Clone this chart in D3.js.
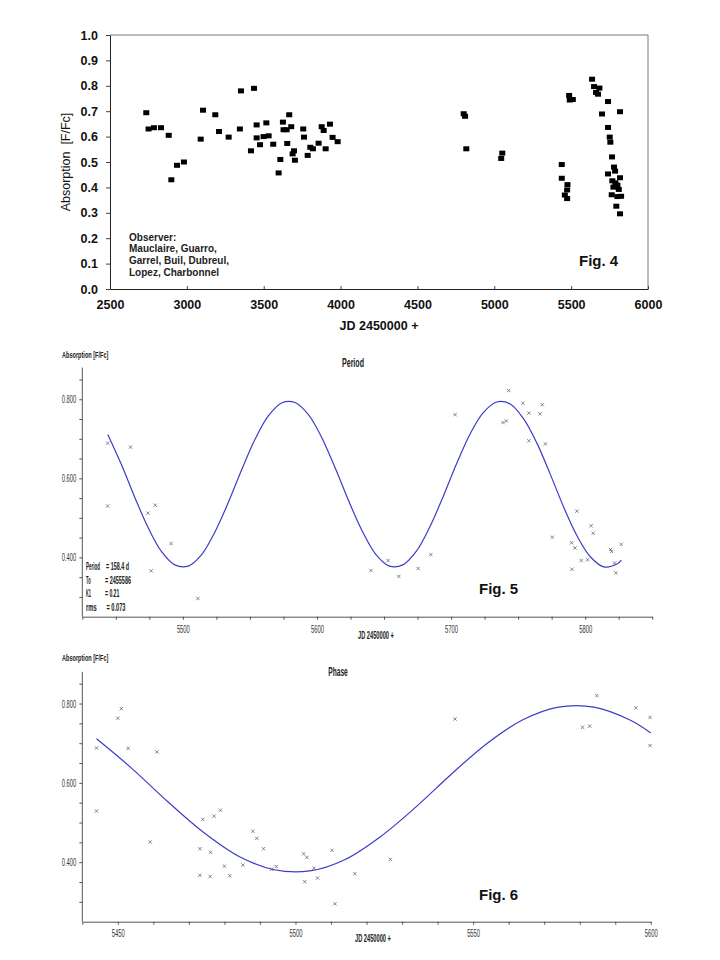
<!DOCTYPE html>
<html><head><meta charset="utf-8">
<script src="https://cdn.jsdelivr.net/npm/d3@7"></script>
<style>
html,body{margin:0;padding:0;background:#fff;}
svg{display:block;}
</style>
</head><body>
<svg id="chart" width="720" height="960"></svg>
<script>
// ---------- Fig. 4 data ----------
const fig4JD = [2736,2751,2786,2832,2882,2899,2936,2981,3090,3105,3185,3209,3272,3345,3352,3417,3437,3454,3454,3476,3499,3517,3532,3562,3597,3608,3625,3629,3649,3653,3666,3679,3688,3697,3703,3757,3762,3786,3803,3820,3857,3877,3890,3903,3931,3948,3981,
 4801,4810,4818,5052,5045,5439,5439,5476,5474,5459,5474,5487,5491,5511,5636,5649,5684,5662,5675,5740,5701,5818,5740,5751,5755,5766,5779,5786,5740,5818,5768,5788,5801,5775,5810,5764,5801,5825,5794,5818];
const fig4Abs = [0.694,0.630,0.635,0.635,0.605,0.430,0.487,0.500,0.590,0.704,0.686,0.620,0.598,0.630,0.780,0.544,0.790,0.646,0.595,0.568,0.600,0.654,0.603,0.570,0.457,0.510,0.657,0.627,0.627,0.573,0.686,0.639,0.532,0.544,0.507,0.630,0.598,0.526,0.558,0.552,0.574,0.639,0.624,0.552,0.649,0.597,0.580,
 0.690,0.680,0.552,0.535,0.514,0.490,0.436,0.411,0.390,0.370,0.356,0.762,0.744,0.746,0.826,0.797,0.791,0.774,0.767,0.738,0.689,0.698,0.636,0.598,0.578,0.520,0.480,0.464,0.453,0.438,0.426,0.418,0.409,0.401,0.392,0.371,0.364,0.365,0.326,0.296];
const fig4XTicks = [2500,3000,3500,4000,4500,5000,5500,6000];
const fig4YTicks = [0,0.1,0.2,0.3,0.4,0.5,0.6,0.7,0.8,0.9,1.0];
const observerLines = ["Observer:","Mauclaire, Guarro,","Garrel, Buil, Dubreul,","Lopez, Charbonnel"];

// ---------- Fig. 5 (Period) data ----------
const periodJD = [5443.9,5443.9,5461,5473.9,5479.4,5476.4,5491.3,5511.2,
 5640.2,5653.1,5661,5675.4,5684.9,5703,5743,5738.7,5741.2,5753.6,5758,5768,5766.3,5758,5770.3,5775.5,5793.8,5789.9,5792.4,5790.1,5797.1,5801.8,5804.5,5806,5818.9,5819.7,5821.9,5822.9,5826.9];
const periodAbs = [0.689,0.530,0.679,0.512,0.532,0.366,0.435,0.296,
 0.367,0.392,0.352,0.372,0.407,0.761,0.822,0.741,0.745,0.790,0.765,0.786,0.763,0.695,0.687,0.451,0.517,0.437,0.424,0.370,0.392,0.394,0.480,0.461,0.420,0.415,0.386,0.361,0.433];
const periodXTicks = [5500,5600,5700,5800];
const statLabels = ["Period","To","K1","rms"];
const statValues = ["= 158.4 d","= 2455586","= 0.21","= 0.073"];

// ---------- Fig. 6 (Phase) data ----------
const phaseJD = [5444,5444,5450,5451,5452.9,5459.1,5461,5473.1,5473.1,5473.9,5476.1,5476,5477.1,5478.9,5480,5481.5,5485.2,5488,5489.1,5491,5493.3,5494.6,5502.3,5503.2,5502.6,5505.2,5506.2,5510.3,5511.1,5516.7,
 5526.7,5544.9,5580.8,5582.8,5584.8,5595.8,5599.8,5599.8];
const phaseAbs = [0.688,0.529,0.763,0.787,0.687,0.451,0.678,0.434,0.367,0.508,0.425,0.364,0.516,0.531,0.390,0.366,0.393,0.478,0.460,0.434,0.382,0.389,0.421,0.412,0.351,0.385,0.360,0.430,0.295,0.371,
 0.407,0.761,0.740,0.743,0.820,0.789,0.765,0.694];
const phaseXTicks = [5450,5500,5550,5600];

// ---------- fitted curve ----------
const fitJD = [5444,5454,5464,5474,5484,5494,5504,5514,5524,5534,5544,5554,5564,5574,5584,5594,5600,5604,5614,5624,5634,5644,5654,5664,5674,5684,5694,5704,5714,5724,5734,5744,5754,5764,5774,5784,5794,5804,5814,5824,5827];
const fitAbs = [0.711,0.636,0.553,0.476,0.415,0.381,0.378,0.407,0.465,0.540,0.623,0.700,0.759,0.791,0.791,0.759,0.726,0.700,0.623,0.540,0.465,0.407,0.378,0.381,0.415,0.476,0.553,0.636,0.711,0.766,0.793,0.788,0.751,0.689,0.610,0.527,0.454,0.401,0.376,0.384,0.393];
const yMajor = [0.4,0.6,0.8];
const yMinor = [0.3,0.35,0.4,0.45,0.5,0.55,0.6,0.65,0.7,0.75,0.8,0.85];

const svg = d3.select("#chart");
const NARROW = "Liberation Sans Narrow, Liberation Sans, Arial, sans-serif";

// squeeze a text horizontally so that it is `w` px wide (transform keeps its box honest)
function squeeze(t, x, y, w, anchor){
  const nat = t.node().getComputedTextLength() || 1;
  const s = w / nat;
  const x0 = anchor === "middle" ? x - w/2 : anchor === "end" ? x - w : x;
  t.attr("text-anchor","start").attr("x",0).attr("y",0).attr("dy",null)
   .attr("transform",`translate(${x0},${y}) scale(${s},1)`);
  return t;
}
function narrowText(g, str, x, y, w, fs, bold, anchor, fill){
  const t = g.append("text").attr("font-family",NARROW).attr("font-size",fs)
    .attr("font-weight",bold?"bold":"normal").attr("fill",fill||"#222").text(str);
  return squeeze(t, x, y, w, anchor);
}

// ================= Fig. 4 =================
(function(){
  const x = d3.scaleLinear().domain([2500,6000]).range([110,648]);
  const y = d3.scaleLinear().domain([0,1]).range([289,35]);
  const g = svg.append("g");
  g.append("path").attr("d",`M${x(2500)},${y(1)}H${x(6000)}V${y(0)}`).attr("fill","none").attr("stroke","#777").attr("stroke-width",1);
  const xa = g.append("g").attr("transform",`translate(0,${y(0)})`)
    .call(d3.axisBottom(x).tickValues(fig4XTicks).tickSize(-3).tickSizeOuter(0).tickPadding(9).tickFormat(d3.format("d")));
  xa.select(".domain").attr("stroke","#222");
  xa.selectAll("line").attr("stroke","#444");
  xa.selectAll("text").attr("font-family","Liberation Sans, Arial").attr("font-weight","bold").attr("font-size",12.5).attr("fill","#111").attr("dy","0.71em").attr("y",11);
  const ya = g.append("g").attr("transform",`translate(${x(2500)},0)`)
    .call(d3.axisLeft(y).tickValues(fig4YTicks).tickSize(4).tickSizeOuter(0).tickPadding(8).tickFormat(d3.format(".1f")));
  ya.select(".domain").attr("stroke","#222");
  ya.selectAll("line").attr("stroke","#444");
  ya.selectAll("text").attr("font-family","Liberation Sans, Arial").attr("font-weight","bold").attr("font-size",12.5).attr("fill","#111");
  g.append("text").attr("transform","translate(66,162) rotate(-90)").attr("text-anchor","middle").attr("dy","0.35em")
    .attr("font-family","Liberation Sans, Arial").attr("font-size",12.5).attr("fill","#111").attr("xml:space","preserve").text("Absorption  [F/Fc]");
  g.append("text").attr("x",379).attr("y",329.5).attr("text-anchor","middle")
    .attr("font-family","Liberation Sans, Arial").attr("font-weight","bold").attr("font-size",12.5).attr("fill","#111").text("JD 2450000 +");
  g.selectAll(".obs").data(observerLines).join("text").attr("x",129).attr("y",(d,i)=>240.5+i*11.9)
    .attr("font-family","Liberation Sans, Arial").attr("font-weight","bold").attr("font-size",10).attr("fill","#222").text(d=>d);
  g.append("text").attr("x",579).attr("y",266).attr("font-family","Liberation Sans, Arial").attr("font-weight","bold").attr("font-size",15).attr("fill","#111").text("Fig. 4");
  g.selectAll(".pt").data(fig4JD).join("rect")
    .attr("x",(d)=>x(d)-3).attr("y",(d,i)=>y(fig4Abs[i])-2.5).attr("width",6).attr("height",5).attr("fill","#000");
})();

// ================= Fig. 5 / Fig. 6 =================
function lightPanel(opt){
  const {xDomain,xRange,yRange,xTickStep,xLabels,jd,abs,fitFilter,top,title,titleX,titleY,titleW,figText,figY,jdLabelX,jdLabelY,xLabelY,statBlock} = opt;
  const x = d3.scaleLinear().domain(xDomain).range(xRange);
  const y = d3.scaleLinear().domain([0.25,0.88]).range(yRange);
  const g = svg.append("g");
  const axisColor = "#555";
  const ya = g.append("g").attr("transform",`translate(${xRange[0]},0)`)
    .call(d3.axisLeft(y).tickValues(yMinor).tickSize(3).tickSizeOuter(0).tickPadding(3).tickFormat(d=> yMajor.some(m=>Math.abs(m-d)<1e-6) ? d3.format(".3f")(d) : ""));
  ya.select(".domain").attr("stroke",axisColor).attr("d",`M0,${y(0.88)}V${y(0.25)}`);
  ya.selectAll("line").attr("stroke",axisColor);
  ya.selectAll("text").attr("font-family",NARROW).attr("font-size",10).attr("fill","#333")
    .each(function(){ if(this.textContent) squeeze(d3.select(this), -6, 3.5, 14.5, "end"); });
  const ticks = d3.range(xDomain[0], xDomain[1]+0.1, xTickStep);
  const xa = g.append("g").attr("transform",`translate(0,${y(0.25)})`)
    .call(d3.axisBottom(x).tickValues(ticks).tickSize(3).tickSizeOuter(0).tickFormat(d=> xLabels.includes(d) ? String(d) : ""));
  xa.select(".domain").attr("stroke",axisColor);
  xa.selectAll("line").attr("stroke",axisColor);
  xa.selectAll("text").attr("font-family",NARROW).attr("font-size",10).attr("fill","#333")
    .each(function(){ if(this.textContent) squeeze(d3.select(this), 0, xLabelY - y(0.25) + 3.5, 13, "middle"); });
  narrowText(g, "Absorption [F/Fc]", 62, top, 46.5, 9, true, "start");
  narrowText(g, title, titleX, titleY, titleW, 12, true, "middle");
  narrowText(g, "JD 2450000 +", jdLabelX, jdLabelY, 36, 10, true, "start");
  g.append("text").attr("x",479).attr("y",figY).attr("font-family","Liberation Sans, Arial").attr("font-weight","bold").attr("font-size",15).attr("fill","#111").text(figText);
  const fitPts = fitJD.map((d,i)=>[d,fitAbs[i]]).filter(p=>p[0]>=fitFilter[0] && p[0]<=fitFilter[1]);
  g.append("path").attr("d",d3.line().x(p=>x(p[0])).y(p=>y(p[1])).curve(d3.curveCatmullRom.alpha(0.5))(fitPts))
    .attr("fill","none").attr("stroke","#3c3cc8").attr("stroke-width",1.2);
  const sym = d3.symbol().type(d3.symbolTimes).size(9);
  g.selectAll(".mk").data(jd).join("path").attr("d",sym).attr("transform",(d,i)=>`translate(${x(d)},${y(abs[i])})`)
    .attr("fill","none").attr("stroke","#555").attr("stroke-width",0.7);
  if(statBlock){
    const lw=[14,4.7,5,10.7], vw=[23,26,14.3,19], vx=[106,105,105,106.5], yy=[569.5,583.5,596.5,611];
    statLabels.forEach((s,i)=>{
      narrowText(g, s, 86, yy[i], lw[i], 10, true, "start");
      narrowText(g, statValues[i], vx[i], yy[i], vw[i], 10, true, "start");
    });
  }
}

lightPanel({xDomain:[5425,5850], xRange:[82.3,82.3+425*1.341], yRange:[616.7,367.6], xTickStep:25, xLabels:periodXTicks,
  jd:periodJD, abs:periodAbs, fitFilter:[5440,5830], top:358, title:"Period", titleX:353, titleY:367, titleW:22,
  figText:"Fig. 5", figY:593.5, jdLabelX:358, jdLabelY:638.5, xLabelY:629, statBlock:true});

lightPanel({xDomain:[5440,5600], xRange:[82.3,82.3+160*3.553], yRange:[921.7,671.8], xTickStep:10, xLabels:phaseXTicks,
  jd:phaseJD, abs:phaseAbs, fitFilter:[5440,5600], top:661, title:"Phase", titleX:338, titleY:676, titleW:19.5,
  figText:"Fig. 6", figY:899.5, jdLabelX:355, jdLabelY:942, xLabelY:933, statBlock:false});
</script>
</body></html>
